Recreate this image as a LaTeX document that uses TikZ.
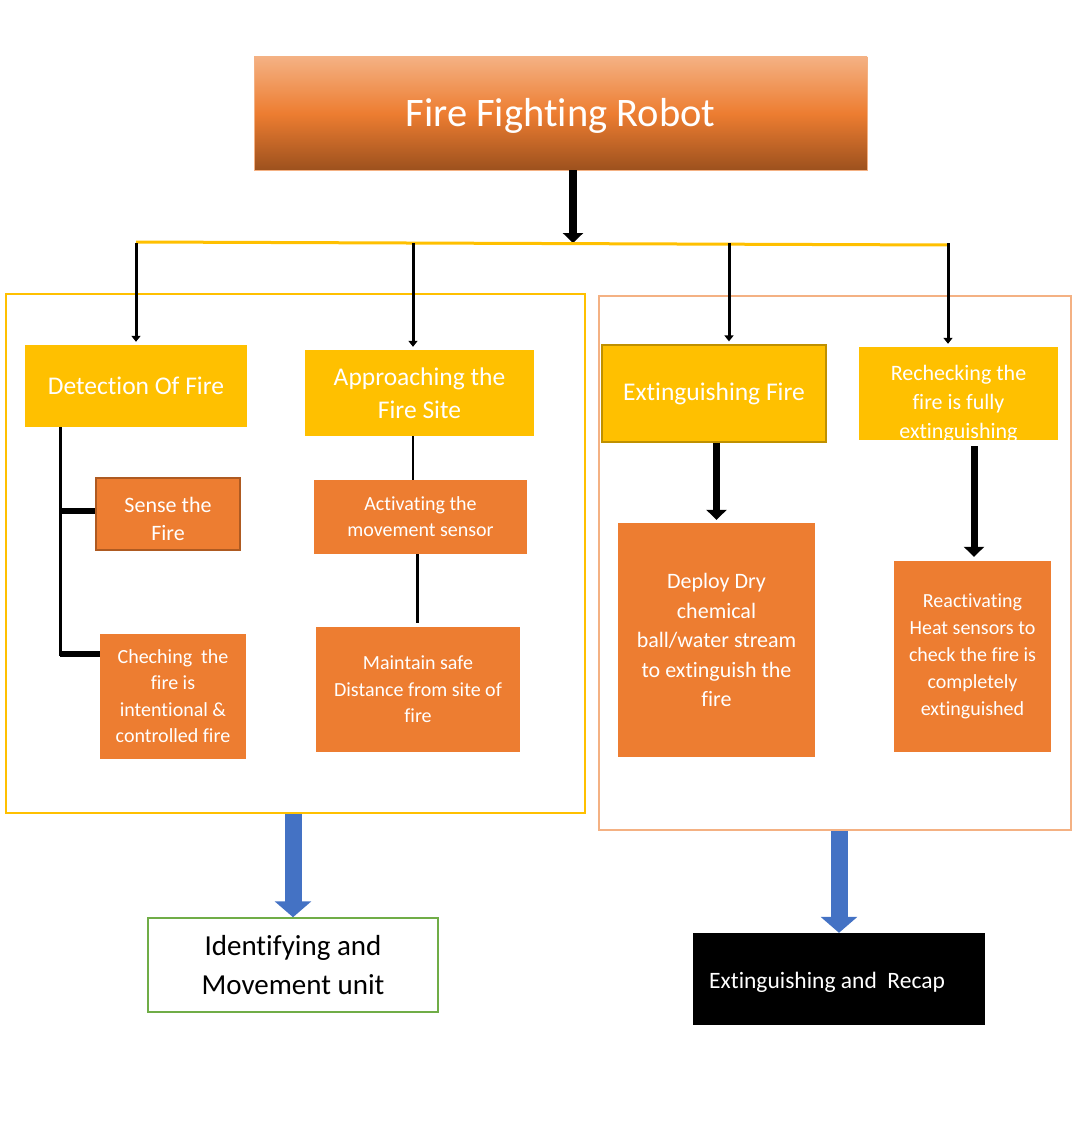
\documentclass[tikz,border=0pt]{standalone}
\usepackage{fontspec}
\setmainfont{Carlito}[Ligatures=NoCommon]
\usetikzlibrary{arrows.meta}
\definecolor{headyellow}{HTML}{FFC000}
\definecolor{headedge}{HTML}{BF9000}
\definecolor{taskorange}{HTML}{ED7D31}
\definecolor{taskedge}{HTML}{AE5A21}
\definecolor{frameorange}{HTML}{F4B183}
\definecolor{unitblue}{HTML}{4472C4}
\definecolor{unitgreen}{HTML}{70AD47}

\begin{document}
\begin{tikzpicture}[x=1pt,y=-1pt,
    box/.style={inner sep=0pt, align=center, text=white},
    head/.style={box, fill=headyellow},
    task/.style={box, fill=taskorange},
    frame/.style={draw, line width=1.5pt, inner sep=0pt},
    bigarrow/.style={line width=8pt, -{Triangle[width=20pt,length=10pt]}},
    droparrow/.style={line width=3pt, -{Triangle[width=9pt,length=6pt]}},
    link/.style={line width=2.5pt},
    unitarrow/.style={unitblue, line width=17pt, -{Triangle[width=36pt,length=16pt]}}
    ]
    \useasboundingbox (0,0) rectangle (1080,1121);

    % title
    \node[box, top color=frameorange, bottom color=taskedge!90!black, middle color=taskorange,
      draw=frameorange, minimum width=613, minimum height=113] (title) at (560.5,113.5) {};
    \node[box, font=\fontsize{40.5}{44}\selectfont] (titletext) at (560.5,116) {Fire Fighting Robot};

    % the two groups
    \node[frame, draw=headyellow, minimum width=579, minimum height=519] (leftgroup) at (295.5,553.5) {};
    \node[frame, draw=frameorange, minimum width=472, minimum height=534] (rightgroup) at (835,563) {};

    % main steps
    \node[head, minimum width=222, minimum height=82, font=\fontsize{25.5}{33}\selectfont] (detect) at (136,386) {Detection Of Fire};
    \node[head, minimum width=229, minimum height=86, font=\fontsize{25.5}{33}\selectfont] (approach) at (419.5,393) {Approaching the\\Fire Site};
    \node[head, draw=headedge, line width=1.2pt, minimum width=224, minimum height=97, font=\fontsize{25.5}{33}\selectfont] (extinguish) at (714,393.5) {Extinguishing Fire};
    \node[head, minimum width=199, minimum height=93] (recheck) at (958.5,393.5) {};
    \node[box, font=\fontsize{22}{29}\selectfont] (rechecktext) at (958.5,404) {Rechecking the\\fire is fully\\extinguishing};

    % sub steps
    \node[task, draw=taskedge, line width=1.2pt, minimum width=144, minimum height=72] (sense) at (168,514) {};
    \node[box, font=\fontsize{22}{28}\selectfont] (sensetext) at (168,519) {Sense the\\Fire};
    \node[task, minimum width=146, minimum height=125, font=\fontsize{20}{26.5}\selectfont] (check) at (173,696) {Cheching\ \ the\\fire is\\intentional \&\\controlled fire};
    \node[task, minimum width=213, minimum height=74, font=\fontsize{20}{26}\selectfont] (activate) at (420.5,517) {Activating the\\movement sensor};
    \node[task, minimum width=204, minimum height=125, font=\fontsize{20}{26.5}\selectfont] (maintain) at (418,689.5) {Maintain safe\\Distance from site of\\fire};
    \node[task, minimum width=197, minimum height=234, font=\fontsize{22}{29.5}\selectfont] (deploy) at (716.5,640) {Deploy Dry\\chemical\\ball/water stream\\to extinguish the\\fire};
    \node[task, minimum width=157, minimum height=191, font=\fontsize{20}{27}\selectfont] (reactivate) at (972.5,656.5) {Reactivating\\Heat sensors to\\check the fire is\\completely\\extinguished};

    % units
    \node[box, text=black, draw=unitgreen, line width=1.5pt, minimum width=290, minimum height=94,
      font=\fontsize{29}{39}\selectfont] (identify) at (293,965) {Identifying and\\Movement unit};
    \node[fill=black, inner sep=0pt, minimum width=292, minimum height=92] (recap) at (839,979) {};
    \node[anchor=west, text=white, inner sep=0pt, font=\fontsize{23.5}{26}\selectfont] (recaptext) at (709,982) {Extinguishing and\ \ Recap};

    % connectors
    \coordinate (hub) at (573,243);
    \draw[bigarrow] (title.south -| hub) -- (hub);
    \draw[headyellow, line width=3pt] (136,242) -- (948,245);
    \foreach \x/\n in {136/detect,413/approach,729/extinguish,948/recheck}
      \draw[droparrow, shorten >=3pt] (\x,243) -- (\x,0 |- \n.north);

    \coordinate (fork1) at (60,511);
    \coordinate (fork2) at (60,654);
    \draw[line width=3pt] (detect.south -| fork1) -- ([yshift=-1.5pt]fork2);
    \draw[line width=6pt] (fork1) -- (sense.west |- fork1);
    \draw[line width=6pt] (fork2) -- (check.west |- fork2);
    \draw[link] (approach.south -| 413,0) -- (activate.north -| 413,0);
    \draw[link] (activate.south -| 417.5,0) -- ([yshift=4pt]maintain.north -| 417.5,0);

    \draw[bigarrow, line width=7pt] (extinguish.south -| deploy.north) -- ([yshift=3pt]deploy.north);
    \draw[bigarrow, line width=7pt, shorten <=6pt] (recheck.south -| 974,0) -- ([yshift=4pt]reactivate.north -| 974,0);

    \draw[unitarrow] (leftgroup.south -| identify.north) -- (identify.north);
    \draw[unitarrow] (rightgroup.south -| recap.north) -- (recap.north);
\end{tikzpicture}
\end{document}
